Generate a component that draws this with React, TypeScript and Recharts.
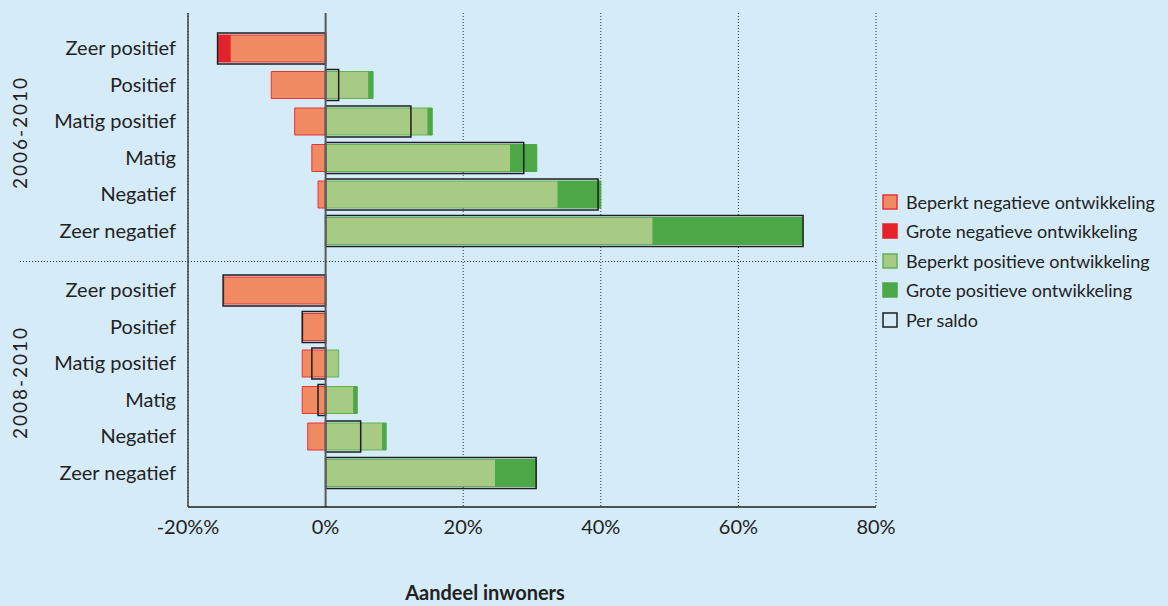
import React from "react";
import {
  BarChart,
  Bar,
  XAxis,
  YAxis,
  CartesianGrid,
  ReferenceLine,
  Legend,
} from "recharts";

const CATEGORIES = [
  "Zeer positief",
  "Positief",
  "Matig positief",
  "Matig",
  "Negatief",
  "Zeer negatief",
];
const PERIODS = ["2006-2010", "2008-2010"];

// 2006-2010
const BEPERKT_NEG_A = [-13.9, -7.9, -4.5, -2.0, -1.1, 0];
const GROTE_NEG_A = [-1.7, 0, 0, 0, 0, 0];
const BEPERKT_POS_A = [0, 6.3, 14.9, 26.9, 33.8, 47.6];
const GROTE_POS_A = [0, 0.6, 0.6, 3.8, 6.2, 21.7];
const SALDO_A = [-15.7, 1.9, 12.4, 28.8, 39.6, 69.4];

// 2008-2010
const BEPERKT_NEG_B = [-14.8, -3.3, -3.4, -3.4, -2.6, 0];
const GROTE_NEG_B = [0, 0, 0, 0, 0, 0];
const BEPERKT_POS_B = [0, 0, 1.9, 4.1, 8.3, 24.7];
const GROTE_POS_B = [0, 0, 0, 0.5, 0.5, 5.9];
const SALDO_B = [-14.9, -3.4, -2.0, -1.1, 5.1, 30.6];

const X_TICKS = [-20, 0, 20, 40, 60, 80];
const X_TICK_LABELS = ["-20%%", "0%", "20%", "40%", "60%", "80%"];

const SERIES = [
  { key: "beperktNeg", name: "Beperkt negatieve ontwikkeling", fill: "#F08A62", stroke: "#E8333A" },
  { key: "groteNeg", name: "Grote negatieve ontwikkeling", fill: "#E42229", stroke: "#E42229" },
  { key: "beperktPos", name: "Beperkt positieve ontwikkeling", fill: "#A7CB84", stroke: "#5FB354" },
  { key: "grotePos", name: "Grote positieve ontwikkeling", fill: "#4CA847", stroke: "#4CA847" },
];
const SALDO = { key: "saldo", name: "Per saldo", stroke: "#1E1E1E" };

const BG = "#D6EBF8";
const FONT = "Lato, 'Noto Sans', sans-serif";
const TEXT = "#222";

function rows(bn: number[], gn: number[], bp: number[], gp: number[], s: number[]) {
  return CATEGORIES.map((cat, i) => ({
    cat,
    beperktNeg: bn[i],
    groteNeg: gn[i],
    beperktPos: bp[i],
    grotePos: gp[i],
    saldo: s[i],
  }));
}

const DATA_A = rows(BEPERKT_NEG_A, GROTE_NEG_A, BEPERKT_POS_A, GROTE_POS_A, SALDO_A);
const DATA_B = rows(BEPERKT_NEG_B, GROTE_NEG_B, BEPERKT_POS_B, GROTE_POS_B, SALDO_B);

function PeriodLabel(props: any) {
  const vb = props.viewBox || { y: 0, height: 0 };
  const cy = vb.y + vb.height / 2 + (props.shift || 0);
  return (
    <text
      x={19}
      y={cy}
      transform={`rotate(-90, 19, ${cy})`}
      textAnchor="middle"
      dominantBaseline="central"
      fontFamily={FONT}
      fontSize={19}
      letterSpacing={2}
      fill={TEXT}
    >
      {props.value}
    </text>
  );
}

function LegendBox() {
  const items = [
    ...SERIES.map((s) => ({ name: s.name, fill: s.fill, stroke: s.stroke })),
    { name: SALDO.name, fill: "none", stroke: SALDO.stroke },
  ];
  return (
    <div style={{ fontFamily: FONT, fontSize: 18, color: TEXT }}>
      {items.map((it) => (
        <div key={it.name} style={{ display: "flex", alignItems: "center", height: 29.5 }}>
          <svg width={16} height={16} style={{ marginRight: 8 }}>
            <rect x={1} y={1} width={14} height={14} fill={it.fill} stroke={it.stroke} strokeWidth={1.5} />
          </svg>
          <span>{it.name}</span>
        </div>
      ))}
    </div>
  );
}

function Panel({
  data,
  period,
  height,
  margin,
  padding,
  showXAxis,
  showLegend,
  labelShift,
}: any) {
  return (
    <BarChart
      width={1168}
      height={height}
      data={data}
      layout="vertical"
      stackOffset="sign"
      margin={margin}
    >
      <CartesianGrid horizontal={false} stroke="#333" strokeDasharray="1 2" />
      <XAxis
        type="number"
        domain={[-20, 80]}
        ticks={X_TICKS}
        hide={!showXAxis}
        height={showXAxis ? 99 : 0}
        tickLine={false}
        tickMargin={7}
        axisLine={{ stroke: "#1E1E1E", strokeWidth: 1.5 }}
        tick={{ fontFamily: FONT, fontSize: 20, fill: TEXT }}
        tickFormatter={(v: number) => X_TICK_LABELS[X_TICKS.indexOf(v)]}
        label={
          showXAxis
            ? {
                value: "Aandeel inwoners",
                position: "insideBottom",
                offset: 6,
                dx: -47,
                style: { fontFamily: FONT, fontSize: 20, fontWeight: 700, fill: TEXT },
              }
            : undefined
        }
      />
      <YAxis
        type="category"
        dataKey="cat"
        width={188}
        padding={padding}
        tickLine={false}
        tickMargin={6}
        axisLine={{ stroke: "#444", strokeWidth: 1.5 }}
        tick={{ fontFamily: FONT, fontSize: 20, fill: TEXT }}
        label={{
          value: period,
          content: (p: any) => <PeriodLabel {...p} value={period} shift={labelShift} />,
        }}
      />
      <YAxis yAxisId="saldo" type="category" dataKey="cat" hide padding={padding} />
      <ReferenceLine x={0} stroke="#5A5A5A" strokeWidth={2} />
      {SERIES.map((s) => (
        <Bar
          key={s.key}
          dataKey={s.key}
          name={s.name}
          stackId="a"
          fill={s.fill}
          stroke={s.stroke}
          strokeWidth={1}
          barSize={27}
          isAnimationActive={false}
        />
      ))}
      <Bar
        yAxisId="saldo"
        dataKey={SALDO.key}
        name={SALDO.name}
        fill="none"
        stroke={SALDO.stroke}
        strokeWidth={1.5}
        barSize={31}
        isAnimationActive={false}
      />
      {showLegend && (
        <Legend
          layout="vertical"
          align="center"
          verticalAlign="middle"
          wrapperStyle={{ left: 882, top: 187, width: 286 }}
          content={() => <LegendBox />}
        />
      )}
    </BarChart>
  );
}

export default function App() {
  return (
    <div
      style={{
        position: "absolute",
        left: 0,
        top: 0,
        width: 1168,
        height: 606,
        background: BG,
        overflow: "hidden",
      }}
    >
      <div style={{ position: "absolute", left: 0, top: 0 }}>
        <Panel
          data={DATA_A}
          period={PERIODS[0]}
          height={262}
          margin={{ top: 13, right: 292, bottom: 0, left: 0 }}
          padding={{ top: 17, bottom: 13 }}
          showXAxis={false}
          showLegend={true}
          labelShift={-5}
        />
      </div>
      <div style={{ position: "absolute", left: 0, top: 262 }}>
        <Panel
          data={DATA_B}
          period={PERIODS[1]}
          height={344}
          margin={{ top: 0, right: 292, bottom: 0, left: 0 }}
          padding={{ top: 10, bottom: 16 }}
          showXAxis={true}
          showLegend={false}
          labelShift={-2}
        />
      </div>
      <svg
        width={1168}
        height={606}
        style={{ position: "absolute", left: 0, top: 0, pointerEvents: "none" }}
      >
        <line x1={20} x2={876} y1={261.5} y2={261.5} stroke="#333" strokeDasharray="1 2" />
      </svg>
    </div>
  );
}
